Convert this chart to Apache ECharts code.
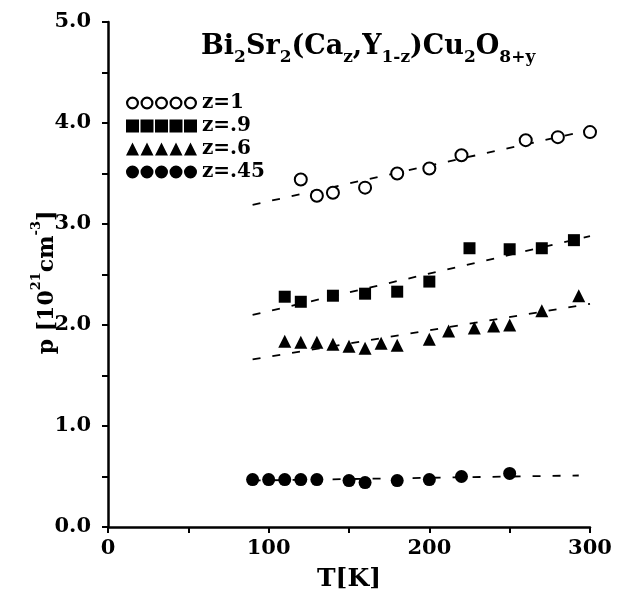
<!DOCTYPE html>
<html>
<head>
<meta charset="utf-8">
<script src="https://cdn.jsdelivr.net/npm/echarts@6/dist/echarts.min.js"></script>
<style>
  html, body { margin: 0; padding: 0; background: #fff; }
  #chart { width: 640px; height: 597px; }
</style>
</head>
<body>
<div id="chart"></div>
<script>
// 数据: T[K] 与 p [10^21 cm^-3]
var tZ1   = [120, 130, 140, 160, 180, 200, 220, 260, 280, 300];
var pZ1   = [3.44, 3.28, 3.31, 3.36, 3.50, 3.55, 3.68, 3.83, 3.86, 3.91];
var tZ09  = [110, 120, 140, 160, 180, 200, 225, 250, 270, 290];
var pZ09  = [2.28, 2.23, 2.29, 2.31, 2.33, 2.43, 2.76, 2.75, 2.76, 2.84];
var tZ06  = [110, 120, 130, 140, 150, 160, 170, 180, 200, 212, 228, 240, 250, 270, 293];
var pZ06  = [1.84, 1.83, 1.83, 1.81, 1.79, 1.77, 1.82, 1.80, 1.86, 1.94, 1.97, 1.99, 2.00, 2.14, 2.29];
var tZ045 = [90, 100, 110, 120, 130, 150, 160, 180, 200, 220, 250];
var pZ045 = [0.47, 0.47, 0.47, 0.47, 0.47, 0.46, 0.44, 0.46, 0.47, 0.50, 0.53];

// 拟合虚线 (两端点)
var fitT     = [90, 300];
var fitZ1    = [3.19, 3.93];
var fitZ09   = [2.10, 2.88];
var fitZ06   = [1.66, 2.21];
var fitT045  = [90, 293];
var fitZ045  = [0.46, 0.51];

var names = ['z=1', 'z=.9', 'z=.6', 'z=.45'];
var xTicks = [0, 100, 200, 300];

function pairs(xs, ys) {
    var out = [];
    for (var i = 0; i < xs.length; i++) {
        out.push([xs[i], ys[i]]);
    }
    return out;
}

// 图例图标: 五个符号一排
function iconPath(kind) {
    var s = '';
    for (var i = 0; i < 5; i++) {
        var cx = 6.5 + 14.5 * i, cy = 6.5;
        if (kind == 'ring') {
            s += 'M' + (cx - 6.5) + ' ' + cy + 'A6.5 6.5 0 1 1 ' + (cx + 6.5) + ' ' + cy + 'A6.5 6.5 0 1 1 ' + (cx - 6.5) + ' ' + cy + 'Z';
            s += 'M' + (cx - 4.3) + ' ' + cy + 'A4.3 4.3 0 1 0 ' + (cx + 4.3) + ' ' + cy + 'A4.3 4.3 0 1 0 ' + (cx - 4.3) + ' ' + cy + 'Z';
        } else if (kind == 'dot') {
            s += 'M' + (cx - 6.5) + ' ' + cy + 'A6.5 6.5 0 1 1 ' + (cx + 6.5) + ' ' + cy + 'A6.5 6.5 0 1 1 ' + (cx - 6.5) + ' ' + cy + 'Z';
        } else if (kind == 'square') {
            s += 'M' + (cx - 6.5) + ' 0L' + (cx + 6.5) + ' 0L' + (cx + 6.5) + ' 13L' + (cx - 6.5) + ' 13Z';
        } else {
            s += 'M' + cx + ' 0L' + (cx + 6.5) + ' 13L' + (cx - 6.5) + ' 13Z';
        }
    }
    return 'path://' + s;
}

var serif = 'DejaVu Serif';
var black = '#000';

var dashStyle = { color: black, width: 1.8, type: [8, 12], opacity: 1 };

function fitSeries(name, xs, ys) {
    return {
        name: name,
        type: 'line',
        data: pairs(xs, ys),
        symbol: 'none',
        silent: true,
        lineStyle: dashStyle,
        z: 1
    };
}

var option = {
    backgroundColor: '#fff',
    animation: false,
    title: {
        text: '{n|Bi}{s|2}{n|Sr}{s|2}{n|(Ca}{s|z}{n|,Y}{s|1-z}{n|)Cu}{s|2}{n|O}{s|8+y}',
        left: 196,
        top: 21,
        textStyle: {
            rich: {
                n: { fontFamily: serif, fontSize: 27, color: black, fontWeight: 'bold', lineHeight: 34, verticalAlign: 'bottom' },
                s: { fontFamily: serif, fontSize: 17, color: black, fontWeight: 'bold', lineHeight: 34, verticalAlign: 'bottom', padding: [0, 0, -6, 0] }
            }
        }
    },
    legend: {
        orient: 'vertical',
        left: 121,
        top: 88,
        itemWidth: 71,
        itemHeight: 13,
        itemGap: 3,
        textStyle: { fontFamily: serif, fontWeight: 'bold', fontSize: 20, color: black },
        data: [
            { name: names[0], icon: iconPath('ring'), itemStyle: { color: black, borderWidth: 0, opacity: 1 } },
            { name: names[1], icon: iconPath('square'), itemStyle: { color: black, borderWidth: 0, opacity: 1 } },
            { name: names[2], icon: iconPath('tri'), itemStyle: { color: black, borderWidth: 0, opacity: 1 } },
            { name: names[3], icon: iconPath('dot'), itemStyle: { color: black, borderWidth: 0, opacity: 1 } }
        ]
    },
    grid: {
        left: 108,
        right: 50,
        top: 22,
        bottom: 69
    },
    xAxis: {
        type: 'value',
        min: 0,
        max: 300,
        interval: 50,
        name: 'T[K]',
        nameLocation: 'middle',
        nameGap: 40,
        nameMoveOverlap: false,
        nameTextStyle: { fontFamily: serif, fontWeight: 'bold', fontSize: 25, color: black },
        axisLine: { show: true, onZero: false, lineStyle: { color: black, width: 2.5 } },
        axisTick: { show: true, length: 6, lineStyle: { color: black, width: 2 } },
        axisLabel: {
            fontFamily: serif, fontWeight: 'bold', fontSize: 21, color: black, margin: 11,
            formatter: function (v) { return xTicks.indexOf(v) >= 0 ? String(v) : ''; }
        },
        splitLine: { show: false }
    },
    yAxis: {
        type: 'value',
        min: 0,
        max: 5,
        interval: 0.5,
        name: '{b|p [10}{sup|21}{b|cm}{sup|-3}{b|]}',
        nameLocation: 'middle',
        nameGap: 50,
        nameMoveOverlap: false,
        nameTextStyle: {
            padding: [0, 0, 0, -16],
            rich: {
                b: { fontFamily: serif, fontWeight: 'bold', fontSize: 22, color: black, lineHeight: 28, verticalAlign: 'bottom' },
                sup: { fontFamily: serif, fontWeight: 'bold', fontSize: 13, color: black, lineHeight: 28, verticalAlign: 'top' }
            }
        },
        axisLine: { show: true, onZero: false, lineStyle: { color: black, width: 2.5 } },
        axisTick: { show: true, length: 6, lineStyle: { color: black, width: 2 } },
        axisLabel: {
            fontFamily: serif, fontWeight: 'bold', fontSize: 21, color: black, margin: 17,
            formatter: function (v) { return (Math.abs(v - Math.round(v)) < 1e-6) ? v.toFixed(1) : ''; }
        },
        splitLine: { show: false }
    },
    series: [
        fitSeries('fit1', fitT, fitZ1),
        fitSeries('fit09', fitT, fitZ09),
        fitSeries('fit06', fitT, fitZ06),
        fitSeries('fit045', fitT045, fitZ045),
        {
            name: names[0], type: 'scatter', data: pairs(tZ1, pZ1),
            symbol: 'emptyCircle', symbolSize: 12,
            itemStyle: { color: black, borderColor: black, borderWidth: 2, opacity: 1 }, z: 3
        },
        {
            name: names[1], type: 'scatter', data: pairs(tZ09, pZ09),
            symbol: 'rect', symbolSize: 12,
            itemStyle: { color: black, opacity: 1 }, z: 3
        },
        {
            name: names[2], type: 'scatter', data: pairs(tZ06, pZ06),
            symbol: 'triangle', symbolSize: 13,
            itemStyle: { color: black, opacity: 1 }, z: 3
        },
        {
            name: names[3], type: 'scatter', data: pairs(tZ045, pZ045),
            symbol: 'circle', symbolSize: 13,
            itemStyle: { color: black, opacity: 1 }, z: 3
        }
    ]
};

var chart = echarts.init(document.getElementById('chart'));
chart.setOption(option);
</script>
</body>
</html>
